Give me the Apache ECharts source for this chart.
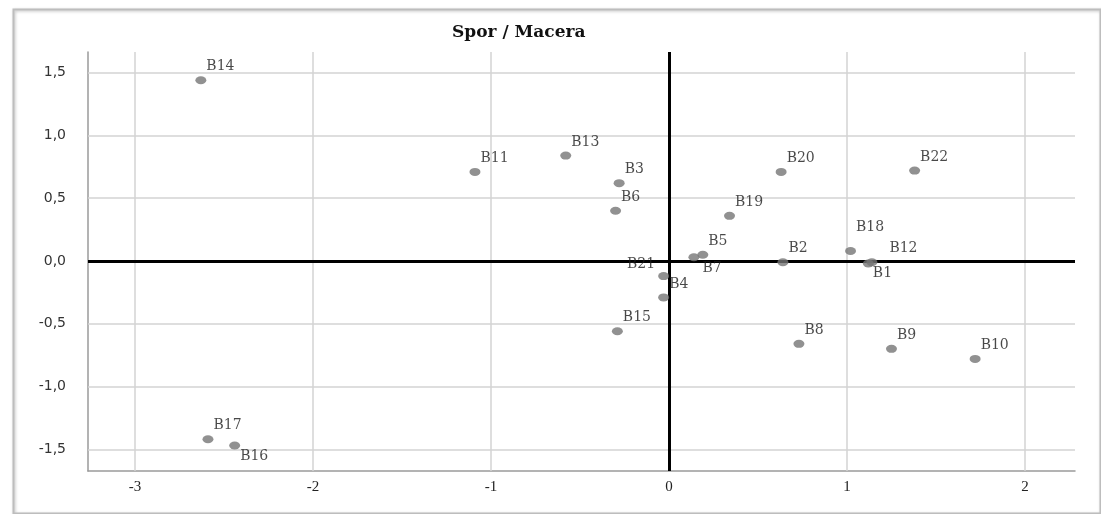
<!DOCTYPE html>
<html><head><meta charset="utf-8">
<script src="https://cdn.jsdelivr.net/npm/echarts@6/dist/echarts.min.js"></script>
<style>html,body{margin:0;padding:0;background:#fff}#c{width:1101px;height:514px}</style>
</head><body><div id="c"></div>
<script>
// ---- data ----
const names = ['B1','B2','B3','B4','B5','B6','B7','B8','B9','B10','B11','B12','B13','B14','B15','B16','B17','B18','B19','B20','B21','B22'];
const xVals = [1.12, 0.64, -0.28, -0.03, 0.19, -0.30, 0.14, 0.73, 1.25, 1.72, -1.09, 1.14, -0.58, -2.63, -0.29, -2.44, -2.59, 1.02, 0.34, 0.63, -0.03, 1.38];
const yVals = [-0.02, -0.01, 0.62, -0.29, 0.05, 0.40, 0.03, -0.66, -0.70, -0.78, 0.71, -0.01, 0.84, 1.44, -0.56, -1.47, -1.42, 0.08, 0.36, 0.71, -0.12, 0.72];
const xTicks = [-3, -2, -1, 0, 1, 2];
const yTicks = [-1.5, -1.0, -0.5, 0.0, 0.5, 1.0, 1.5];
const title = 'Spor / Macera';

// label placement (style only)
const labelPos = {
  B1: [10, 13.5, 'left'], B7: [14, 15.5, 'left'], B16: [11, 14.5, 'left'],
  B21: [-3, -7.5, 'right'], B12: [23, -9.5, 'left'], B18: [11, -19.5, 'left']
};

const points = names.map((n, i) => {
  const p = labelPos[n] || [11, -9.5, 'left'];
  return {
    name: n, value: [xVals[i], yVals[i]],
    label: { position: [p[0], p[1]], align: p[2], verticalAlign: 'middle' }
  };
});

const chart = echarts.init(document.getElementById('c'));
chart.setOption({
  backgroundColor: '#fff',
  animation: false,
  title: {
    text: title, left: 447, top: 19,
    textStyle: { fontFamily: 'DejaVu Serif', fontWeight: 'bold', fontSize: 17, color: '#111' }
  },
  graphic: [{
    type: 'rect', left: 11, top: 7, silent: true, z: -10,
    shape: { width: 1087, height: 504 },
    style: { fill: 'none', stroke: '#bdbdbd', lineWidth: 2, shadowBlur: 3, shadowColor: 'rgba(0,0,0,0.25)', shadowOffsetX: 1, shadowOffsetY: 1 }
  }],
  grid: { left: 88, right: 26, top: 52, bottom: 43, containLabel: false },
  xAxis: {
    type: 'value', min: -3.264, max: 2.281,
    axisLine: { show: true, onZero: false, lineStyle: { color: '#9a9a9a', width: 1.5 } },
    axisTick: { show: false },
    splitLine: { show: false },
    axisLabel: {
      customValues: xTicks, margin: 9,
      fontFamily: 'Liberation Serif', fontSize: 15, color: '#222',
      formatter: v => String(v)
    }
  },
  yAxis: {
    type: 'value', min: -1.673, max: 1.665,
    axisLine: { show: true, onZero: false, lineStyle: { color: '#9a9a9a', width: 1.5 } },
    axisTick: { show: false },
    splitLine: { show: false },
    axisLabel: {
      customValues: yTicks, margin: 22,
      fontFamily: 'DejaVu Sans', fontSize: 14, color: '#333',
      formatter: v => v.toFixed(1).replace('.', ',')
    }
  },
  series: [
    {
      type: 'scatter', data: [], silent: true, z: 1,
      markLine: {
        silent: true, symbol: 'none', animation: false,
        label: { show: false },
        lineStyle: { color: '#d3d3d3', width: 1.5, type: 'solid' },
        data: xTicks.filter(v => v !== 0).map(v => ({ xAxis: v }))
          .concat(yTicks.filter(v => v !== 0).map(v => ({ yAxis: v })))
      }
    },
    {
      type: 'scatter', data: [], silent: true, z: 2,
      markLine: {
        silent: true, symbol: 'none', animation: false,
        label: { show: false },
        lineStyle: { color: '#000', width: 3, type: 'solid' },
        data: [{ xAxis: 0 }, { yAxis: 0 }]
      }
    },
    {
      type: 'scatter', z: 5,
      symbol: 'circle', symbolSize: [11, 8],
      itemStyle: { color: '#767676' },
      label: {
        show: true, formatter: p => p.name,
        fontFamily: 'DejaVu Serif', fontSize: 14, color: '#1a1a1a'
      },
      data: points
    }
  ]
});
</script>
</body></html>
